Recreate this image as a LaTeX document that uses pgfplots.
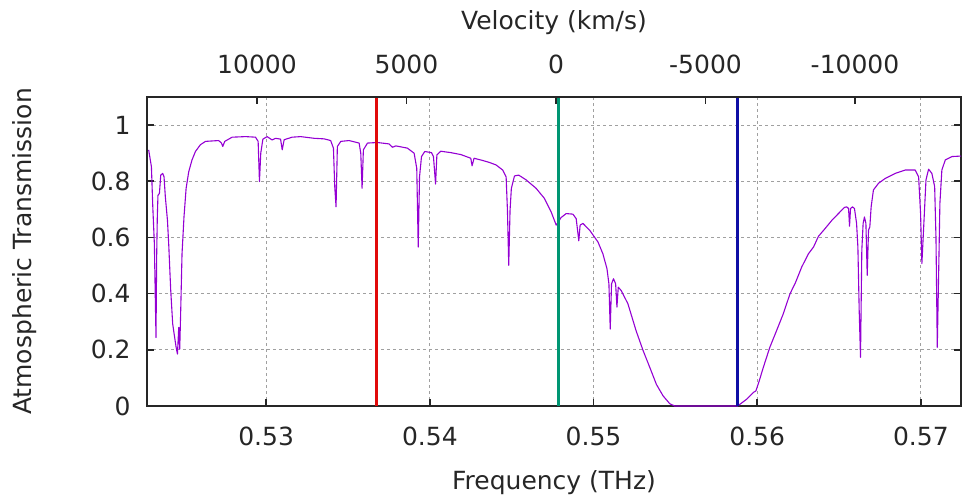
\documentclass[border=0pt]{standalone}
\usepackage{fontspec}
\setmainfont{DejaVu Sans}
\usepackage{pgfplots}
\pgfplotsset{compat=1.18}
\definecolor{cpurple}{RGB}{148,0,211}
\definecolor{cred}{RGB}{225,10,10}
\definecolor{cgreen}{RGB}{0,150,115}
\definecolor{cblue}{RGB}{15,15,165}
\definecolor{cgrid}{RGB}{160,160,160}
\pgfplotstableread{
f y
0.52282 0.912
0.52299 0.852
0.52307 0.715
0.52317 0.578
0.52323 0.375
0.52327 0.244
0.52331 0.53
0.52335 0.673
0.52339 0.75
0.52348 0.757
0.52356 0.822
0.52368 0.828
0.52376 0.816
0.52384 0.745
0.52397 0.661
0.52405 0.572
0.52417 0.411
0.52429 0.292
0.52441 0.244
0.52450 0.209
0.52458 0.185
0.52466 0.280
0.52472 0.203
0.52478 0.34
0.52486 0.542
0.52498 0.673
0.52511 0.775
0.52527 0.834
0.52547 0.876
0.52568 0.906
0.52598 0.930
0.52629 0.942
0.52710 0.945
0.52727 0.936
0.52735 0.924
0.52747 0.942
0.52792 0.957
0.52874 0.959
0.52935 0.957
0.52951 0.942
0.52959 0.799
0.52967 0.90
0.52980 0.95
0.53006 0.959
0.53037 0.947
0.53057 0.953
0.53088 0.95
0.53098 0.912
0.53110 0.948
0.53159 0.957
0.53211 0.959
0.53293 0.953
0.53354 0.951
0.53394 0.945
0.53411 0.918
0.53419 0.781
0.53427 0.709
0.53435 0.924
0.53456 0.942
0.53507 0.945
0.53568 0.936
0.53578 0.90
0.53586 0.775
0.53594 0.912
0.53619 0.936
0.53680 0.938
0.53751 0.933
0.53772 0.921
0.53792 0.926
0.53863 0.918
0.53904 0.90
0.53920 0.846
0.53929 0.566
0.53937 0.816
0.53949 0.888
0.53969 0.906
0.54010 0.902
0.54022 0.888
0.54035 0.790
0.54043 0.894
0.54067 0.907
0.54128 0.902
0.54190 0.895
0.54250 0.882
0.54258 0.855
0.54270 0.882
0.54323 0.874
0.54364 0.867
0.54405 0.858
0.54445 0.840
0.54466 0.816
0.54474 0.697
0.54482 0.501
0.54490 0.697
0.54498 0.775
0.54517 0.819
0.54543 0.822
0.54588 0.805
0.54649 0.775
0.54700 0.739
0.54741 0.691
0.54772 0.644
0.54802 0.671
0.54833 0.685
0.54874 0.683
0.54894 0.667
0.54910 0.588
0.54918 0.644
0.54935 0.65
0.54976 0.626
0.55027 0.584
0.55057 0.542
0.55082 0.489
0.55094 0.435
0.55102 0.274
0.55110 0.435
0.55122 0.453
0.55135 0.435
0.55143 0.352
0.55151 0.423
0.55169 0.411
0.55210 0.364
0.55260 0.268
0.55303 0.197
0.55344 0.137
0.55384 0.077
0.55425 0.036
0.55466 0.008
0.55496 0
0.55880 0
0.55894 0.006
0.55935 0.024
0.55976 0.048
0.55992 0.054
0.56012 0.089
0.56037 0.137
0.56077 0.209
0.56118 0.268
0.56159 0.328
0.56200 0.399
0.56235 0.441
0.56272 0.495
0.56313 0.542
0.56344 0.566
0.56374 0.604
0.56415 0.632
0.56456 0.661
0.56496 0.685
0.56533 0.707
0.56547 0.709
0.56558 0.703
0.56564 0.640
0.56570 0.703
0.56582 0.709
0.56594 0.703
0.56607 0.650
0.56615 0.566
0.56623 0.340
0.56631 0.173
0.56639 0.554
0.56647 0.650
0.56655 0.673
0.56664 0.650
0.56672 0.465
0.56680 0.626
0.56688 0.638
0.56696 0.709
0.56710 0.769
0.56741 0.793
0.56782 0.810
0.56843 0.828
0.56904 0.840
0.56965 0.840
0.56986 0.816
0.56998 0.685
0.57006 0.507
0.57014 0.602
0.57022 0.697
0.57031 0.805
0.57047 0.843
0.57067 0.828
0.57084 0.781
0.57092 0.602
0.57100 0.209
0.57108 0.459
0.57116 0.721
0.57128 0.840
0.57149 0.876
0.57190 0.888
0.57251 0.890
}\spectrum
\begin{document}
\fontsize{12.5}{15}\selectfont
\begin{tikzpicture}
\useasboundingbox (-73.5pt,-46.5pt) rectangle (407.5pt,203pt);
\begin{axis}[
  at={(0,0)}, anchor=south west,
  scale only axis, width=407pt, height=154.5pt,
  xmin=0.52272, xmax=0.57245, ymin=0, ymax=1.1,
  xtick={0.53,0.54,0.55,0.56,0.57},
  ytick={0,0.2,0.4,0.6,0.8,1},
  xtick pos=left, ytick pos=both,
  tick align=inside,
  major tick length=3.5pt,
  grid=major,
  major grid style={cgrid, line width=0.5pt, dash pattern=on 1.5pt off 1.5pt},
  axis line style={black!85, line width=0.8pt},
  every tick/.style={black!85, line width=0.8pt},
  /pgf/number format/assume math mode=true,
  /pgf/number format/1000 sep={},
  xticklabel={\pgfmathprintnumber[fixed,precision=2]{\tick}},
  xticklabel style={anchor=base, yshift=-19.5pt, text=black!85},
  yticklabel style={anchor=east, inner sep=0pt, xshift=-8pt, text=black!85},
  xlabel={Frequency (THz)},
  xlabel style={at={(axis description cs:0.5,0)}, anchor=base, yshift=-41.5pt, text=black!85},
  ylabel={Atmospheric Transmission},
  ylabel style={at={(axis description cs:-0.14128,0.5)}, anchor=base, text=black!85},
  clip=true,
]
\addplot[cpurple, line width=0.55pt, line join=round] table[x=f, y=y] {\spectrum};
\addplot[cred, line width=1.5pt] coordinates {(0.536728,0) (0.536728,1.1)};
\addplot[cgreen, line width=1.5pt] coordinates {(0.547859,0) (0.547859,1.1)};
\addplot[cblue, line width=1.5pt] coordinates {(0.558807,0) (0.558807,1.1)};
\end{axis}
\begin{axis}[
  at={(0,0)}, anchor=south west,
  scale only axis, width=407pt, height=154.5pt,
  xmin=-13545, xmax=13679, x dir=reverse, ymin=0, ymax=1,
  axis x line*=top, axis y line=none,
  x axis line style={-},
  axis line style={black!85, line width=0.8pt, -},
  every tick/.style={black!85, line width=0.8pt},
  tick align=inside,
  major tick length=3.5pt,
  xtick={-10000,-5000,0,5000,10000},
  scaled x ticks=false,
  ytick=\empty,
  /pgf/number format/assume math mode=true,
  /pgf/number format/1000 sep={},
  xticklabel style={anchor=base, yshift=11.5pt, text=black!85},
  xlabel={Velocity (km/s)},
  xlabel style={at={(axis description cs:0.5,1)}, anchor=base, yshift=33.5pt, text=black!85},
]
\end{axis}
\end{tikzpicture}
\end{document}
